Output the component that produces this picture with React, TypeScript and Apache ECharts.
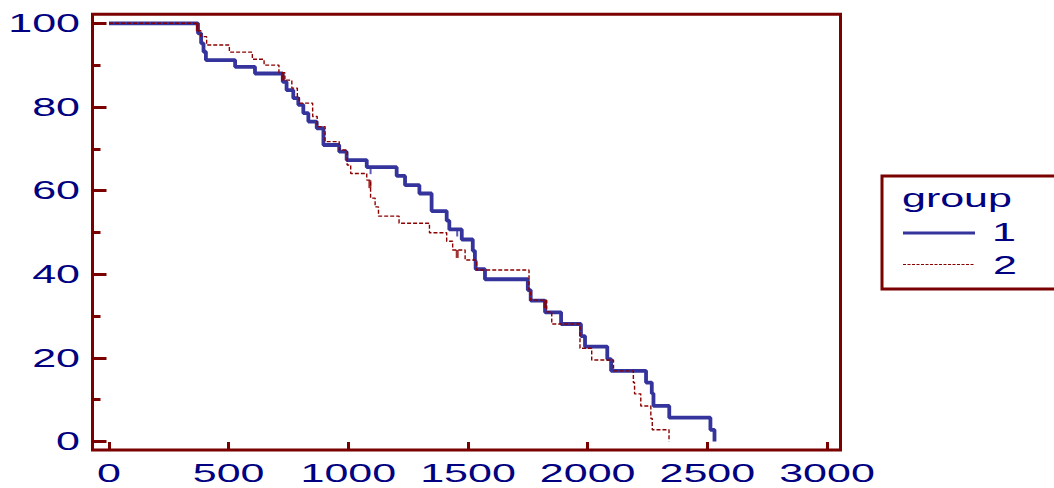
import { useEffect, useRef } from "react";
import * as echarts from "echarts";

// Kaplan-Meier style survival steps: time of each event and survival (%) after it
const group1Time = [
  0, 372, 385, 395, 405, 527, 610, 726, 742, 770, 791, 812, 833, 868, 896, 962, 993,
  1077, 1202, 1237, 1297, 1348, 1411, 1422, 1474, 1520, 1529, 1532, 1571, 1750, 1762,
  1822, 1889, 1972, 1989, 2082, 2098, 2244, 2268, 2275, 2341, 2513, 2530,
];
const group1Survival = [
  100, 97.6, 95.2, 93.2, 91.2, 89.6, 88.0, 86.0, 84.0, 82.1, 80.5, 78.5, 76.5, 74.9, 70.9, 69.3, 67.3,
  65.6, 63.5, 61.3, 59.3, 55.1, 52.8, 50.7, 48.3, 45.6, 43.2, 41.2, 38.8, 36.2, 33.7,
  30.9, 28.1, 25.2, 22.7, 19.7, 16.9, 14.1, 11.5, 8.5, 5.7, 2.8, 0,
];
const group2Time = [
  0, 369, 384, 408, 503, 599, 648, 710, 735, 764, 787, 795, 851, 870, 903, 962, 995,
  1010, 1077, 1093, 1112, 1126, 1212, 1339, 1411, 1436, 1488, 1536, 1755, 1762, 1829,
  1850, 1968, 2017, 2108, 2191, 2196, 2222, 2264, 2270, 2340,
];
const group2Survival = [
  100, 98.2, 96.8, 94.8, 93.1, 91.4, 90.0, 88.2, 86.4, 84.5, 82.4, 80.9, 77.7, 75.3, 71.7, 69.7, 66.1,
  64.1, 62.5, 58.2, 56.1, 53.9, 52.2, 49.9, 47.9, 45.8, 43.4, 41.0, 36.2, 33.8, 31.0,
  28.1, 22.3, 19.5, 16.9, 14.1, 11.4, 8.5, 5.5, 2.8, 0,
];

// Censoring marks
const group1CensorTime = [1093, 1455];
const group1CensorSurvival = [65.6, 50.7];
const group2CensorTime = [369, 726, 1090, 1455, 1822];
const group2CensorSurvival = [100, 88.2, 62.5, 45.8, 33.8];

const xTicks = [0, 500, 1000, 1500, 2000, 2500, 3000];
const yTicks = [0, 20, 40, 60, 80, 100];
const yMinorTicks = [10, 30, 50, 70, 90];
const legendTitle = "group";
const groupNames = ["1", "2"];

const X_MIN = -68.9;
const X_MAX = 3056.5;
const Y_MIN = -2.03;
const Y_MAX = 102.15;

const FRAME = "#7b0000";
const NAVY = "#000080";
const BLUE = "#34349c";
const RED = "#8b0000";
const FONT = '25px "Liberation Sans", Arial, sans-serif';
const TEXT_STRETCH = 1.72;

const pairs = (xs: number[], ys: number[]) => xs.map((x, i) => [x, ys[i]]);

export default function App() {
  const ref = useRef<HTMLDivElement>(null);

  useEffect(() => {
    if (!ref.current) return;
    const chart = echarts.init(ref.current, undefined, { renderer: "svg" });

    const tickStyle = { color: FRAME, width: 3 };
    const hiddenLine = { show: false, onZero: false };

    chart.setOption({
      animation: false,
      backgroundColor: "#ffffff",
      grid: {
        show: true,
        left: 92.5,
        top: 14.3,
        right: 213.5,
        bottom: 38,
        borderColor: FRAME,
        borderWidth: 3,
        backgroundColor: "transparent",
      },
      xAxis: {
        type: "value",
        min: X_MIN,
        max: X_MAX,
        position: "bottom",
        axisLine: hiddenLine,
        axisLabel: { show: false },
        splitLine: { show: false },
        axisTick: { show: true, inside: true, length: 8, customValues: xTicks, lineStyle: tickStyle },
      },
      yAxis: [
        {
          type: "value",
          min: Y_MIN,
          max: Y_MAX,
          position: "left",
          axisLine: hiddenLine,
          axisLabel: { show: false },
          splitLine: { show: false },
          axisTick: { show: true, inside: true, length: 14, customValues: yTicks, lineStyle: tickStyle },
        },
        {
          type: "value",
          min: Y_MIN,
          max: Y_MAX,
          position: "left",
          offset: 0,
          axisLine: hiddenLine,
          axisLabel: { show: false },
          splitLine: { show: false },
          axisTick: { show: true, inside: true, length: 8, customValues: yMinorTicks, lineStyle: tickStyle },
        },
      ],
      series: [
        {
          name: groupNames[0],
          type: "line",
          step: "end",
          showSymbol: false,
          data: pairs(group1Time, group1Survival),
          lineStyle: { color: BLUE, width: 3.8, type: "solid" },
          z: 2,
        },
        {
          name: groupNames[0] + " censored",
          type: "scatter",
          symbol: "rect",
          symbolSize: [2, 7],
          symbolOffset: [0, "50%"],
          itemStyle: { color: BLUE },
          data: pairs(group1CensorTime, group1CensorSurvival),
          z: 3,
        },
        {
          name: groupNames[1],
          type: "line",
          step: "end",
          showSymbol: false,
          data: pairs(group2Time, group2Survival),
          lineStyle: { color: RED, width: 1.4, type: [4, 2] },
          z: 4,
        },
        {
          name: groupNames[1] + " censored",
          type: "scatter",
          symbol: "rect",
          symbolSize: [3, 8],
          symbolOffset: [0, "50%"],
          itemStyle: { color: RED },
          data: pairs(group2CensorTime, group2CensorSurvival),
          z: 5,
        },
      ],
    });

    // Tick labels and legend, set in a wide, stretched face
    const bottomY = chart.convertToPixel({ gridIndex: 0 }, [0, Y_MIN])[1];
    const leftX = chart.convertToPixel({ gridIndex: 0 }, [X_MIN, 0])[0];

    const label = (text: string, x: number, y: number, align: string) => ({
      type: "text",
      x,
      y,
      scaleX: TEXT_STRETCH,
      silent: true,
      style: {
        text,
        font: FONT,
        fill: NAVY,
        align,
        textAlign: align,
        verticalAlign: "middle",
        textVerticalAlign: "middle",
      },
    });

    const xLabels = xTicks.map((v) => {
      const px = chart.convertToPixel({ gridIndex: 0 }, [v, Y_MIN])[0];
      return label(String(v), px, bottomY + 23.5, "center");
    });
    const yLabels = yTicks.map((v) => {
      const py = chart.convertToPixel({ gridIndex: 0 }, [X_MIN, v])[1];
      return label(String(v), leftX - 12.5, py, "right");
    });

    const legend = [
      {
        type: "rect",
        shape: { x: 882, y: 176, width: 200, height: 113 },
        style: { fill: "#ffffff", stroke: FRAME, lineWidth: 3 },
        silent: true,
      },
      label(legendTitle, 902, 198, "left"),
      {
        type: "line",
        shape: { x1: 903, y1: 233, x2: 975, y2: 233 },
        style: { stroke: BLUE, lineWidth: 3 },
        silent: true,
      },
      label(groupNames[0], 1004, 232.5, "center"),
      {
        type: "line",
        shape: { x1: 903, y1: 264.5, x2: 975, y2: 264.5 },
        style: { stroke: RED, lineWidth: 1.2, lineDash: [3, 1.5] },
        silent: true,
      },
      label(groupNames[1], 1005, 265, "center"),
    ];

    chart.setOption({ graphic: { elements: [...xLabels, ...yLabels, ...legend] } });

    return () => chart.dispose();
  }, []);

  return (
    <div
      ref={ref}
      style={{ position: "fixed", left: 0, top: 0, width: 1054, height: 488, background: "#fff" }}
    />
  );
}
